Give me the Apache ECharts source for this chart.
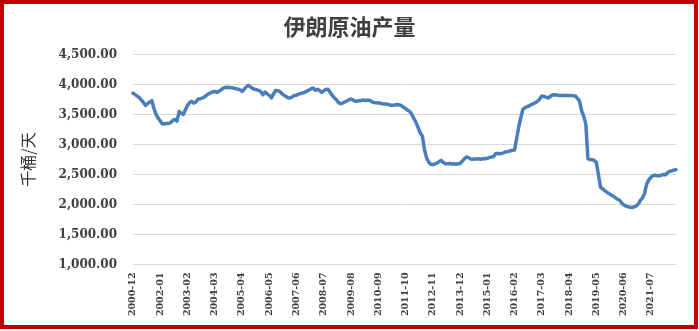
<!DOCTYPE html>
<html>
<head>
<meta charset="utf-8">
<script src="https://cdn.jsdelivr.net/npm/echarts@6/dist/echarts.min.js"></script>
<style>
html,body{margin:0;padding:0;background:#fff;}
#chart{width:699px;height:331px;}
</style>
</head>
<body>
<div id="chart"></div>
<script>
// Category range: monthly from 2000-12 to 2022-07
var startYear = 2000, startMonth = 12, monthCount = 260;
var categories = [];
(function(){
  var y = startYear, m = startMonth;
  for (var k = 0; k < monthCount; k++) {
    categories.push(y + '-' + (m < 10 ? '0' + m : '' + m));
    m++; if (m > 12) { m = 1; y++; }
  }
})();

var yTicks = [1000, 1500, 2000, 2500, 3000, 3500, 4000, 4500];

var production = [
3857,3830,3805,3780,3740,3700,3650,3680,3710,3730,
3600,3500,3440,3390,3340,3345,3350,3350,3365,3400,
3420,3390,3550,3520,3500,3580,3650,3700,3720,3690,
3710,3760,3760,3775,3790,3820,3845,3860,3880,3885,
3870,3885,3910,3940,3950,3955,3950,3945,3940,3930,
3925,3910,3885,3920,3960,3985,3960,3935,3920,3910,
3900,3880,3830,3875,3845,3820,3775,3840,3900,3895,
3885,3850,3820,3800,3780,3775,3795,3815,3820,3840,
3850,3860,3870,3890,3910,3930,3940,3905,3920,3900,
3870,3895,3915,3920,3870,3820,3780,3745,3700,3680,
3690,3710,3725,3745,3760,3740,3720,3725,3730,3735,
3740,3735,3740,3735,3710,3700,3695,3692,3690,3680,
3675,3674,3665,3655,3655,3660,3665,3660,3650,3620,
3600,3570,3550,3500,3430,3370,3280,3190,3140,2920,
2780,2710,2670,2665,2675,2690,2715,2735,2700,2680,
2680,2685,2675,2680,2672,2680,2685,2720,2760,2790,
2785,2760,2755,2760,2758,2762,2755,2765,2762,2770,
2785,2790,2800,2850,2850,2845,2852,2865,2880,2885,
2895,2905,2910,3100,3300,3450,3590,3615,3630,3645,
3665,3680,3700,3720,3760,3810,3800,3790,3775,3800,
3825,3830,3825,3818,3815,3815,3815,3815,3815,3815,
3812,3810,3770,3720,3560,3470,3340,2760,2750,2745,
2735,2700,2500,2290,2260,2230,2205,2185,2160,2140,
2115,2090,2075,2030,1995,1975,1965,1955,1950,1960,
1975,2010,2070,2110,2180,2340,2410,2450,2480,2490,
2480,2478,2490,2500,2495,2530,2555,2560,2575,2580
];

var titleText = '伊朗原油产量';
var yAxisName = '千桶/天';

function fmt(v){
  var s = Math.round(v).toString().replace(/\B(?=(\d{3})+(?!\d))/g, ',');
  return s + '.00';
}

var chart = echarts.init(document.getElementById('chart'), null, {renderer:'canvas'});
chart.setOption({
  backgroundColor:'#ffffff',
  animation:false,
  title:{
    text:titleText,
    left:'center',
    top:11,
    textStyle:{fontFamily:'"Noto Sans CJK SC"',fontSize:22,fontWeight:'bold',color:'#404040'}
  },
  grid:{left:133,right:23,top:54.5,bottom:66.5,containLabel:false},
  xAxis:{
    type:'category',
    data:categories,
    boundaryGap:false,
    axisLine:{show:false},
    axisTick:{show:false},
    axisLabel:{
      interval:function(i){ return i % 13 === 0 && i <= 247; },
      rotate:90,
      margin:8,
      fontFamily:'"DejaVu Serif"',
      fontWeight:'bold',
      fontSize:9.5,
      color:'#404040'
    },
    splitLine:{show:false}
  },
  yAxis:{
    type:'value',
    min:yTicks[0],
    max:yTicks[yTicks.length-1],
    interval:500,
    name:yAxisName,
    nameLocation:'middle',
    nameRotate:90,
    nameGap:97,
    nameTextStyle:{fontFamily:'"Noto Sans CJK SC"',fontSize:16,color:'#333333'},
    axisLine:{show:false},
    axisTick:{show:false},
    axisLabel:{
      formatter:fmt,
      margin:16,
      fontFamily:'"DejaVu Serif"',
      fontWeight:'bold',
      fontSize:12,
      color:'#404040'
    },
    splitLine:{lineStyle:{color:'#d9d9d9',width:1}}
  },
  series:[{
    type:'line',
    data:production,
    showSymbol:false,
    symbol:'none',
    lineStyle:{color:'#4a7ebb',width:3.5,join:'round',cap:'round'},
    z:3
  }],
  graphic:[{
    type:'rect',
    z:100,
    shape:{x:2,y:2,width:694,height:325},
    style:{fill:'none',stroke:'#c00000',lineWidth:4}
  }]
});
</script>
</body>
</html>
